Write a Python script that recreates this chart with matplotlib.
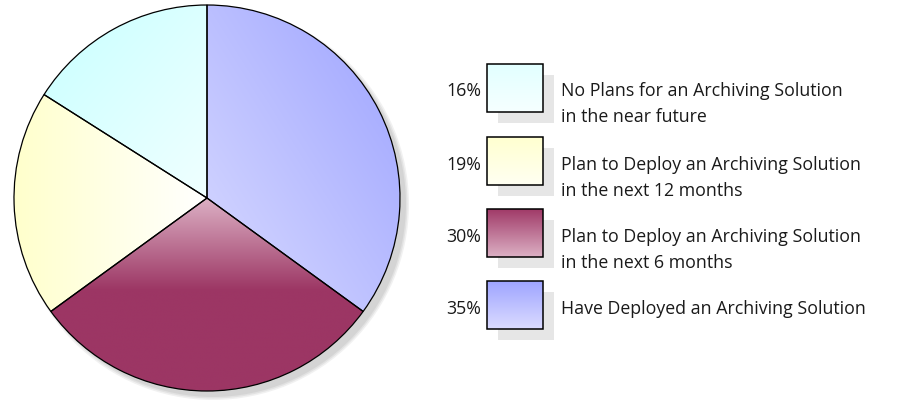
import numpy as np
import matplotlib
matplotlib.use("Agg")
import matplotlib.pyplot as plt
from matplotlib.patches import Rectangle, Circle
from matplotlib.colors import to_rgb

# data, in drawing order (clockwise from 12 o'clock)
labels = ["Have Deployed an Archiving Solution",
          "Plan to Deploy an Archiving Solution\nin the next 6 months",
          "Plan to Deploy an Archiving Solution\nin the next 12 months",
          "No Plans for an Archiving Solution\nin the near future"]
shares = [35, 30, 19, 16]
pct_text = ["35%", "30%", "19%", "16%"]

# gradient colour pairs (start, end) for each slice
grad_colors = [("#d9dbff", "#9da3ff"),
               ("#dcb0c4", "#9c3664"),
               ("#ffffcc", "#ffffff"),
               ("#c8ffff", "#f0ffff")]

plt.rcParams['font.family'] = ['Open Sans', 'DejaVu Sans']

W, H = 897, 400
fig = plt.figure(figsize=(W / 100, H / 100), dpi=100)
ax = fig.add_axes([0, 0, 1, 1])


def gradient_img(c1, c2, mode, n=256):
    a = np.array(to_rgb(c1))
    b = np.array(to_rgb(c2))
    yy, xx = np.mgrid[0:1:n * 1j, 0:1:n * 1j]  # yy: 0 = bottom row (origin lower)
    if mode == "diag":       # lower-left -> upper-right
        t = (xx + yy) / 2
    elif mode == "diag2":    # upper-left -> lower-right
        t = (xx + (1 - yy)) / 2
    elif mode == "horiz":
        t = xx
    elif mode == "down":     # top -> bottom
        t = 1 - yy
    else:
        t = yy
    t = np.clip(t, 0, 1)[..., None]
    return a * (1 - t) + b * t


cx, cy, r = 207, 202, 193

# pie shadow
for i, al in enumerate([0.25, 0.35, 0.5]):
    ax.add_patch(Circle((cx + 6, cy - 6), r + 3 - i * 1.5, color="#c8c8c8",
                        alpha=al, lw=0, zorder=0))

wedges, _ = ax.pie(shares, center=(cx, cy), radius=r, startangle=90,
                   counterclock=False, frame=True,
                   wedgeprops=dict(edgecolor="black", linewidth=0.9, facecolor="none"))

modes = ["diag", "maroon", "horiz", "diag2"]
for w, (c1, c2), m in zip(wedges, grad_colors, modes):
    w.set_zorder(3)
    if m == "maroon":
        # fade from centre down about half the radius, then solid
        n = 256
        ys = np.linspace(0, 1, n)
        ext_top, ext_bot = cy, cy - r
        ypix = ext_bot + ys * (ext_top - ext_bot)
        t = np.clip((ext_top - ypix) / 92.0, 0, 1)
        a = np.array(to_rgb(c1)); b = np.array(to_rgb(c2))
        col = a * (1 - t[:, None]) + b * t[:, None]
        img = np.repeat(col[:, None, :], 2, axis=1)
        extent = (cx - r, cx + r, ext_bot, ext_top)
    elif m == "horiz":
        img = gradient_img(c1, c2, m)
        extent = (cx - r, cx, cy - r, cy + r)
    elif m == "diag":
        img = gradient_img(c1, c2, m)
        extent = (cx, cx + r, cy - r * 0.6, cy + r)
    else:
        img = gradient_img(c1, c2, m)
        extent = (cx - r * 0.85, cx, cy, cy + r)
    im = ax.imshow(img, extent=extent, origin="lower", aspect="auto",
                   interpolation="bilinear", zorder=2)
    im.set_clip_path(w)

# legend (top to bottom, reverse of drawing order)
box_x, box_w, box_h = 487, 56, 48
tops = [64, 137, 209, 281]
legend_grads = [("#e2ffff", "#f6ffff"),
                ("#ffffd0", "#fffff2"),
                ("#a03a68", "#dcb0c4"),
                ("#9ea4ff", "#dcdcff")]
fs = 12.8
for k, idx in enumerate([3, 2, 1, 0]):
    top = tops[k]
    y0 = H - top - box_h
    ax.add_patch(Rectangle((box_x + 11, y0 - 11), box_w, box_h,
                           color="#e6e6e6", lw=0, zorder=1))
    c1, c2 = legend_grads[k]
    img = gradient_img(c1, c2, "down")
    ax.imshow(img, extent=(box_x, box_x + box_w, y0, y0 + box_h),
              origin="lower", aspect="auto", interpolation="bilinear", zorder=2)
    ax.add_patch(Rectangle((box_x, y0), box_w, box_h, fill=False,
                           ec="black", lw=1.1, zorder=3))
    base = y0 + box_h / 2 - 8.5
    ax.text(481, base, pct_text[idx], ha="right", va="baseline",
            fontsize=fs, color="#1a1a1a", zorder=4)
    for j, line in enumerate(labels[idx].split("\n")):
        ax.text(561, base - 26 * j, line, ha="left", va="baseline",
                fontsize=fs, color="#1a1a1a", zorder=4)

ax.set_xlim(0, W)
ax.set_ylim(0, H)
ax.set_aspect("auto")
ax.axis("off")
fig.savefig("out.png", dpi=100, facecolor="white")
